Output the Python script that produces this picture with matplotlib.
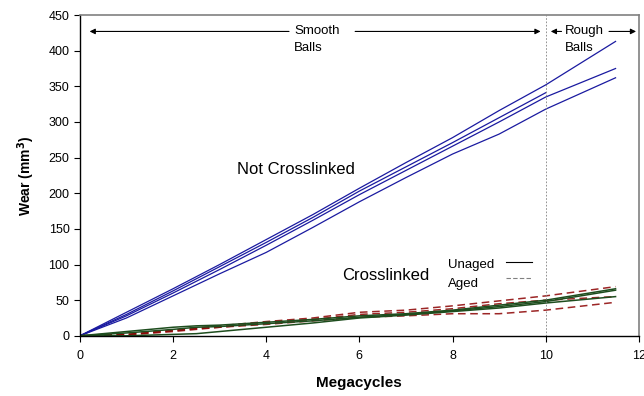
import numpy as np
import matplotlib.pyplot as plt

plt.rcParams['font.family'] = ['Liberation Sans', 'DejaVu Sans']

# Not crosslinked (blue)
x_nc = [0, 1, 2, 3, 4, 5, 6, 7, 8, 9, 10, 11.5]
nc_a = [0, 33, 66, 100, 135, 170, 207, 243, 278, 316, 352, 413]
nc_c = [0, 28, 60, 93, 127, 162, 198, 232, 266, 300, 335, 375]
nc_d = [0, 25, 56, 87, 117, 152, 188, 222, 255, 283, 318, 362]
x_nc_b = [0, 1, 2, 3, 4, 5, 6, 7, 8, 9, 10]
nc_b = [0, 30, 63, 97, 131, 166, 203, 237, 271, 306, 341]

# Crosslinked
x_xl = [0, 1, 2, 2.5, 3, 4, 5, 6, 7, 8, 9, 10, 11.5]
unaged_1 = [0, 6, 12, 14, 15, 19, 23, 28, 31, 36, 43, 50, 66]
unaged_2 = [0, 4, 9, 12, 13, 17, 21, 26, 30, 35, 41, 48, 64]
unaged_3 = [0, 0, 2, 3, 6, 12, 18, 25, 29, 34, 39, 46, 55]
aged_1 = [0, 2, 8, 11, 14, 20, 25, 33, 36, 42, 49, 56, 69]
aged_2 = [0, 2, 7, 10, 12, 18, 23, 30, 33, 38, 45, 50, 55]
aged_3 = [0, 1, 6, 9, 12, 16, 21, 26, 28, 31, 31, 36, 47]

fig = plt.figure(figsize=(6.44, 3.96), dpi=100)
ax = fig.add_axes([0.124, 0.152, 0.868, 0.81])

blue = '#1a1aa0'
for xs, ys in [(x_nc, nc_a), (x_nc_b, nc_b), (x_nc, nc_c), (x_nc, nc_d)]:
    ax.plot(xs, ys, color=blue, lw=0.9)

for ys in [aged_1, aged_2, aged_3]:
    ax.plot(x_xl, ys, color='#8b0000', lw=1.1, ls=(0, (5, 3)), alpha=0.85)
for ys in [unaged_1, unaged_2, unaged_3]:
    ax.plot(x_xl, ys, color='#1e4d1e', lw=1.1)

ax.axvline(10, color='gray', lw=0.6, ls=(0, (2, 2)))

ax.set_xlim(0, 12)
ax.set_ylim(0, 450)
ax.set_xticks(range(0, 13, 2))
ax.set_yticks(range(0, 451, 50))
ax.tick_params(labelsize=9, length=4, width=0.8, color='black')
ax.tick_params(axis='x', pad=6)
for s in ['top', 'right']:
    ax.spines[s].set_color('#808080')
    ax.spines[s].set_linewidth(1.2)
for s in ['left', 'bottom']:
    ax.spines[s].set_linewidth(1.0)

ax.set_xlabel('Megacycles', fontsize=11, fontweight='bold', labelpad=10)
ax.set_ylabel('Wear (mm$^\\mathbf{3}$)', fontsize=10, fontweight='bold', labelpad=8)

# region annotations
arw = dict(arrowstyle='-|>', color='black', lw=0.8, mutation_scale=8)
ax.annotate('', xy=(0.15, 427), xytext=(4.55, 427), arrowprops=arw)
ax.annotate('', xy=(9.95, 427), xytext=(5.85, 427), arrowprops=arw)
ax.text(4.6, 427, 'Smooth', fontsize=9.5, va='center', ha='left')
ax.text(4.6, 404, 'Balls', fontsize=9.5, va='center', ha='left')
ax.annotate('', xy=(10.05, 427), xytext=(10.4, 427), arrowprops=arw)
ax.annotate('', xy=(12, 427), xytext=(11.3, 427), arrowprops=arw)
ax.text(10.42, 427, 'Rough', fontsize=9.5, va='center', ha='left')
ax.text(10.42, 404, 'Balls', fontsize=9.5, va='center', ha='left')

ax.text(3.37, 233, 'Not Crosslinked', fontsize=12, va='center', ha='left')
ax.text(5.62, 84, 'Crosslinked', fontsize=12, va='center', ha='left')
ax.text(7.9, 100, 'Unaged', fontsize=9.5, va='center', ha='left')
ax.text(7.9, 72, 'Aged', fontsize=9.5, va='center', ha='left')
ax.plot([9.15, 9.7], [104, 104], color='black', lw=0.8)
ax.plot([9.15, 9.7], [81, 81], color='#808080', lw=0.8, ls=(0, (4, 2)))

fig.savefig('out.png', dpi=100)
